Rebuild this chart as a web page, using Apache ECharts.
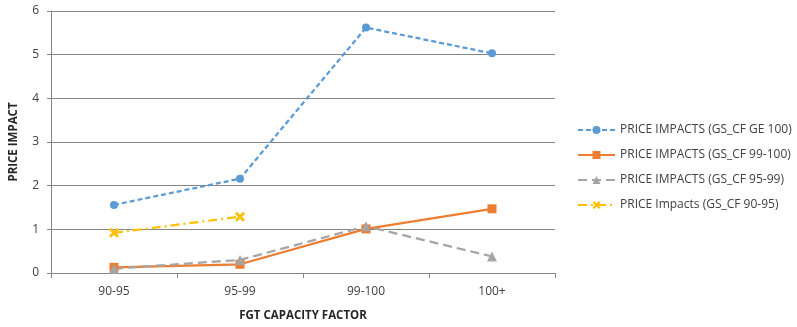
<!DOCTYPE html>
<html><head><meta charset="utf-8">
<script src="https://cdn.jsdelivr.net/npm/echarts@6/dist/echarts.min.js"></script>
<style>html,body{margin:0;padding:0;background:#fff}#c{width:797px;height:327px}</style>
</head><body><div id="c"></div>
<script>
const categories = ['90-95', '95-99', '99-100', '100+'];
const seriesNames = ['PRICE IMPACTS (GS_CF GE 100)', 'PRICE IMPACTS (GS_CF 99-100)', 'PRICE IMPACTS (GS_CF 95-99)', 'PRICE Impacts (GS_CF 90-95)'];
const ge100 = [1.56, 2.16, 5.62, 5.03];
const cf99_100 = [0.13, 0.2, 1.01, 1.47];
const cf95_99 = [0.1, 0.3, 1.07, 0.38];
const cf90_95 = [0.92, 1.29, null, null];

const xPath = 'path://M0,2 L2,0 L5,3 L8,0 L10,2 L7,5 L10,8 L8,10 L5,7 L2,10 L0,8 L3,5 Z';
const chart = echarts.init(document.getElementById('c'));
chart.setOption({
  animation: false,
  textStyle: { fontFamily: 'Open Sans, Liberation Sans, sans-serif' },
  grid: { left: 48, right: 242, top: 11, bottom: 53 },
  legend: {
    orient: 'vertical', left: 572, top: 119, itemGap: 13, itemWidth: 37, itemHeight: 10,
    textStyle: { color: '#404040', fontSize: 12, fontFamily: 'Open Sans, sans-serif' },
    data: seriesNames
  },
  xAxis: {
    type: 'category', data: categories, boundaryGap: true,
    name: 'FGT CAPACITY FACTOR', nameLocation: 'middle', nameGap: 37,
    nameTextStyle: { fontWeight: 'bold', fontSize: 11.5, color: '#262626' },
    axisLine: { lineStyle: { color: '#868686' } },
    axisTick: { show: true, length: 5, lineStyle: { color: '#868686' } },
    axisLabel: { color: '#404040', fontSize: 12, margin: 13 }
  },
  yAxis: {
    type: 'value', min: 0, max: 6, interval: 1,
    name: 'PRICE IMPACT', nameLocation: 'middle', nameGap: 31,
    nameTextStyle: { fontWeight: 'bold', fontSize: 11.5, color: '#262626' },
    axisLine: { show: true, lineStyle: { color: '#868686' } },
    axisTick: { show: true, length: 4, lineStyle: { color: '#868686' } },
    axisLabel: { color: '#404040', fontSize: 12, margin: 12 },
    splitLine: { lineStyle: { color: '#868686' } }
  },
  series: [
    { name: seriesNames[0], type: 'line', data: ge100, symbol: 'circle', symbolSize: 8,
      itemStyle: { color: '#5B9BD5' }, lineStyle: { color: '#5B9BD5', width: 2.25, type: [5, 3] } },
    { name: seriesNames[1], type: 'line', data: cf99_100, symbol: 'rect', symbolSize: 9,
      itemStyle: { color: '#ED7D31' }, lineStyle: { color: '#ED7D31', width: 2.25 } },
    { name: seriesNames[2], type: 'line', data: cf95_99, symbol: 'triangle', symbolSize: 10,
      itemStyle: { color: '#A5A5A5' }, lineStyle: { color: '#A5A5A5', width: 2.25, type: [9, 5] } },
    { name: seriesNames[3], type: 'line', data: cf90_95, symbol: xPath, symbolSize: 10,
      itemStyle: { color: '#FFC000' }, lineStyle: { color: '#FFC000', width: 2.25, type: [9, 4, 2, 4] } }
  ]
});
</script></body></html>
